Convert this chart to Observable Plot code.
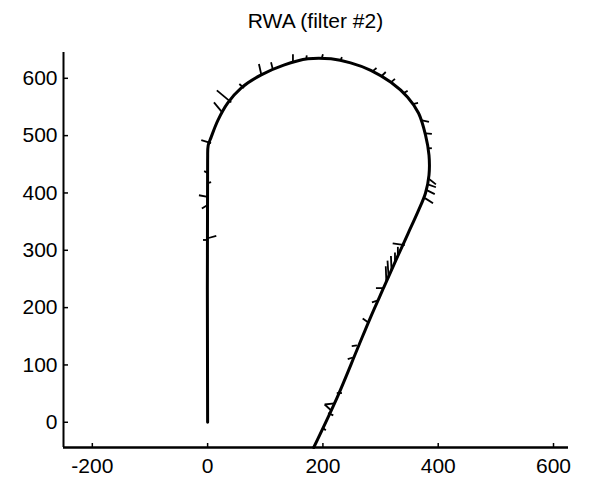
<!DOCTYPE html>
<html>
<head>
<meta charset="utf-8">
<script src="https://cdn.jsdelivr.net/npm/d3@7"></script>
<script src="https://cdn.jsdelivr.net/npm/@observablehq/plot@0.6"></script>
<style>
  html, body { margin: 0; padding: 0; background: #fff; }
  #title { height: 42px; line-height: 42px; box-sizing: border-box; padding-left: 63px; padding-right: 21px;
           text-align: center; font-family: "Liberation Sans", Arial, sans-serif; font-size: 21px; color: #000; }
  svg { display: block; }
</style>
</head>
<body>
<div id="title">RWA (filter #2)</div>
<div id="chart"></div>
<script>
// Axis domains and ticks
const xDomain = [-250, 626];
const yDomain = [-44, 645];
const xTicks = [-200, 0, 200, 400, 600];
const yTicks = [0, 100, 200, 300, 400, 500, 600];

// Estimated trajectory
const pathX = [0, 0, 1, 6, 18, 35, 58, 93, 132, 174, 214, 248, 283, 318, 347, 366, 378, 384, 384, 378, 366, 348, 329, 306, 283, 259, 225, 184];
const pathY = [0, 457, 483, 497, 527, 557, 583, 606, 623, 634, 634, 627, 614, 593, 567, 539, 501, 466, 431, 400, 370, 330, 288, 236, 184, 126, 44, -44];

// Short whisker segments along the trajectory (start -> end)
const wX1 = [6, 25, 41, 63, 93, 113, 148, 171, 198, 231, 287, 302, 318, 339, 356, 370, 378, 384, 382, 382, 380, 377, 342, 330, 325, 319, 314, 310, 306, 297, 280, 259, 252, 224, 220, 214, 209, 200, 0, 0, 0, 0, 0, 0];
const wY1 = [487, 541, 558, 583, 607, 616, 628, 634, 635, 632, 613, 604, 593, 574, 555, 527, 504, 478, 426, 415, 405, 391, 309, 288, 276, 265, 253, 246, 234, 213, 173, 134, 113, 51, 33, 21, 16, -10, 435, 417, 393, 379, 321, 318];
const wX2 = [-11, 11, 16, 55, 89, 110, 148, 172, 200, 233, 293, 309, 325, 347, 365, 384, 389, 389, 396, 396, 394, 391, 321, 330, 325, 318, 312, 309, 292, 285, 269, 250, 243, 233, 203, 203, 218, 205, -6, 6, -15, -10, 15, -8];
const wY2 = [492, 558, 579, 590, 625, 628, 642, 640, 642, 637, 618, 611, 599, 578, 557, 524, 503, 478, 415, 410, 398, 382, 312, 306, 296, 290, 282, 272, 234, 209, 181, 133, 110, 51, 31, 31, 12, -14, 438, 419, 396, 373, 325, 318];

const path = pathX.map((x, i) => ({x, y: pathY[i]}));
const whiskers = wX1.map((x1, i) => ({x1, y1: wY1[i], x2: wX2[i], y2: wY2[i]}));

const W = 589, H = 446;
const mT = 10, mB = 41, mL = 63, mR = 21;
const plotW = W - mL - mR, plotH = H - mT - mB;

const chart = Plot.plot({
  width: W,
  height: H,
  marginTop: mT,
  marginBottom: mB,
  marginLeft: mL,
  marginRight: mR,
  style: {fontFamily: "'Liberation Sans', Arial, sans-serif", fontSize: "21px", color: "#000", background: "#fff"},
  x: {domain: xDomain},
  y: {domain: yDomain},
  marks: [
    Plot.axisX(xTicks, {tickSize: 0, tickPadding: 11, label: null, fontSize: 21, tickFormat: d => String(d)}),
    Plot.axisY(yTicks, {tickSize: 0, tickPadding: 6, label: null, fontSize: 21, tickFormat: d => String(d)}),
    Plot.tickX(xTicks, {x: d => d, insetTop: plotH - 4, stroke: "#000", strokeWidth: 1.5}),
    Plot.tickY(yTicks, {y: d => d, insetRight: plotW - 5, stroke: "#000", strokeWidth: 1.5}),
    Plot.ruleX([xDomain[0]], {stroke: "#000", strokeWidth: 2}),
    Plot.ruleY([yDomain[0]], {stroke: "#000", strokeWidth: 2.5}),
    Plot.link(whiskers, {x1: "x1", y1: "y1", x2: "x2", y2: "y2", stroke: "#000", strokeWidth: 1.8}),
    Plot.line(path, {x: "x", y: "y", stroke: "#000", strokeWidth: 3, curve: "catmull-rom"})
  ]
});
document.getElementById("chart").appendChild(chart);
</script>
</body>
</html>
